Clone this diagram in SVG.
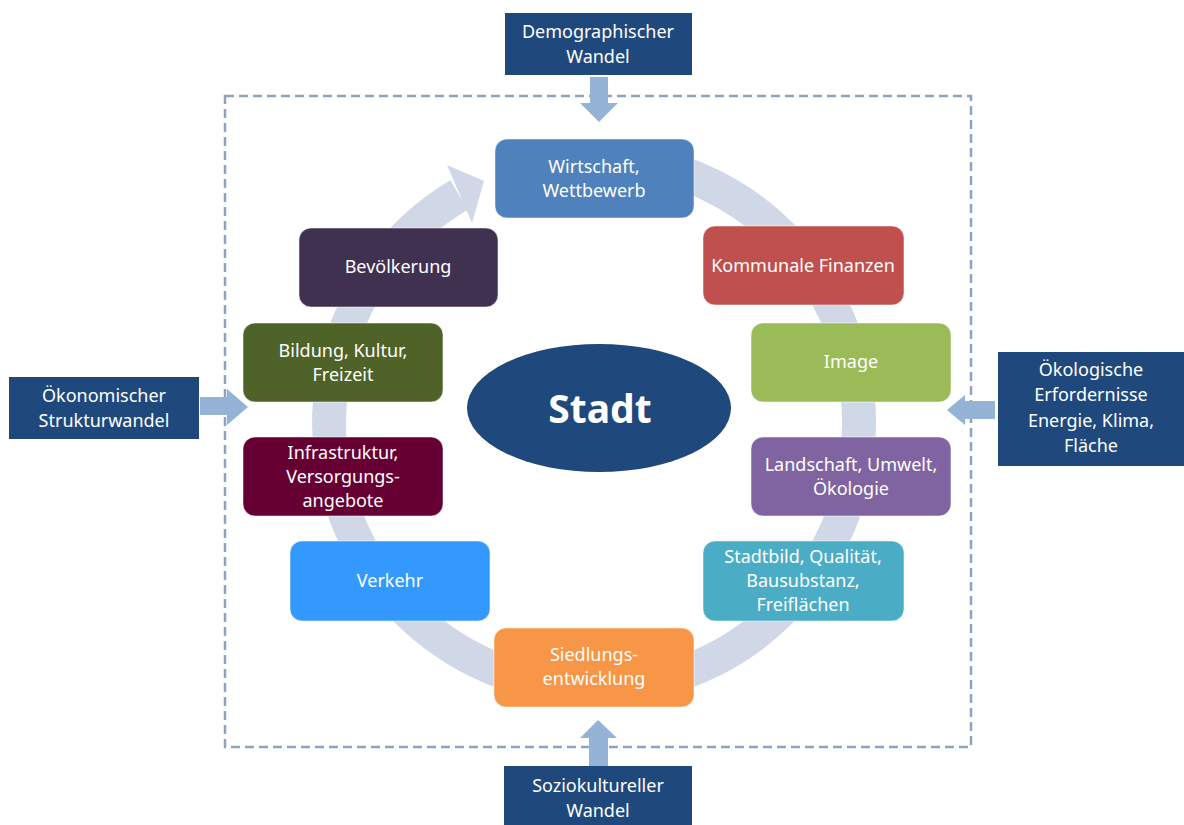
<svg xmlns="http://www.w3.org/2000/svg" width="1184" height="825" viewBox="0 0 1184 825">
<style>
.t{font-family:"Noto Sans","Open Sans","DejaVu Sans",sans-serif;font-size:18px;fill:#ffffff;text-anchor:middle}
.n{stroke:#ffffff;stroke-opacity:0.5;stroke-width:1}
.ext{fill:#1f497d}
.ar{fill:#95b3d7}
</style>
<rect width="1184" height="825" fill="#ffffff"/>
<g id="frame">
<rect x="225" y="96" width="746" height="651" fill="none" stroke="#8ea2c2" stroke-width="2.5" stroke-dasharray="9,5"/>
</g>
<g id="connectors">
<path d="M594 158 A265 265 0 1 1 459 195" fill="none" stroke="#d0d8e8" stroke-width="34"/>
<polygon points="447,165 472,223 484,181" fill="#d0d8e8"/>
<polygon class="ar" points="590,77 608,77 608,103 618,103 599,122 580,103 590,103"/>
<polygon class="ar" points="200,397 227,397 227,389 248,407 227,425 227,415 200,415"/>
<polygon class="ar" points="995,401 965,401 965,395 947,410 965,425 965,419 995,419"/>
<polygon class="ar" points="589,766 608,766 608,738 617,738 598,720 580,738 589,738"/>
</g>
<g id="demo"><rect class="ext" x="505" y="13" width="187" height="62"/><text class="t" x="598" y="38">Demographischer</text><text class="t" x="598" y="63">Wandel</text></g>
<g id="oekonom"><rect class="ext" x="9" y="377" width="190" height="62"/><text class="t" x="104" y="402">Ökonomischer</text><text class="t" x="104" y="427">Strukturwandel</text></g>
<g id="oekolog"><rect class="ext" x="998" y="352" width="186" height="114"/><text class="t" x="1091" y="376">Ökologische</text><text class="t" x="1091" y="401">Erfordernisse</text><text class="t" x="1091" y="427">Energie, Klima,</text><text class="t" x="1091" y="452">Fläche</text></g>
<g id="sozio"><rect class="ext" x="504" y="766" width="188" height="62"/><text class="t" x="598" y="792">Soziokultureller</text><text class="t" x="598" y="817">Wandel</text></g>
<g id="stadt"><ellipse cx="599" cy="408" rx="132" ry="64" fill="#1f497d"/><text x="600" y="423" text-anchor="middle" font-family="Noto Sans, Open Sans, sans-serif" font-weight="bold" font-size="39" fill="#ffffff">Stadt</text></g>
<g id="wirtschaft"><rect class="n" x="495" y="139" width="199" height="79" rx="12" fill="#4f81bd"/><text class="t" x="594" y="173">Wirtschaft,</text><text class="t" x="594" y="197">Wettbewerb</text></g>
<g id="finanzen"><rect class="n" x="703" y="226" width="201" height="79" rx="12" fill="#c0504d"/><text class="t" x="803" y="272">Kommunale Finanzen</text></g>
<g id="image"><rect class="n" x="751" y="323" width="200" height="79" rx="12" fill="#9bbb59"/><text class="t" x="851" y="368">Image</text></g>
<g id="landschaft"><rect class="n" x="751" y="437" width="200" height="79" rx="12" fill="#8064a2"/><text class="t" x="851" y="471">Landschaft, Umwelt,</text><text class="t" x="851" y="495">Ökologie</text></g>
<g id="stadtbild"><rect class="n" x="703" y="541" width="201" height="80" rx="12" fill="#4bacc6"/><text class="t" x="803" y="563">Stadtbild, Qualität,</text><text class="t" x="803" y="587">Bausubstanz,</text><text class="t" x="803" y="611">Freiflächen</text></g>
<g id="siedlung"><rect class="n" x="494" y="628" width="200" height="79" rx="12" fill="#f79646"/><text class="t" x="594" y="661">Siedlungs-</text><text class="t" x="594" y="685">entwicklung</text></g>
<g id="verkehr"><rect class="n" x="290" y="541" width="200" height="80" rx="12" fill="#3399ff"/><text class="t" x="390" y="587">Verkehr</text></g>
<g id="infra"><rect class="n" x="243" y="437" width="200" height="79" rx="12" fill="#660033"/><text class="t" x="343" y="459">Infrastruktur,</text><text class="t" x="343" y="483">Versorgungs-</text><text class="t" x="343" y="507">angebote</text></g>
<g id="bildung"><rect class="n" x="243" y="323" width="200" height="79" rx="12" fill="#4f6228"/><text class="t" x="343" y="357">Bildung, Kultur,</text><text class="t" x="343" y="381">Freizeit</text></g>
<g id="bevoelkerung"><rect class="n" x="299" y="228" width="199" height="79" rx="12" fill="#403151"/><text class="t" x="398" y="273">Bevölkerung</text></g>
</svg>
